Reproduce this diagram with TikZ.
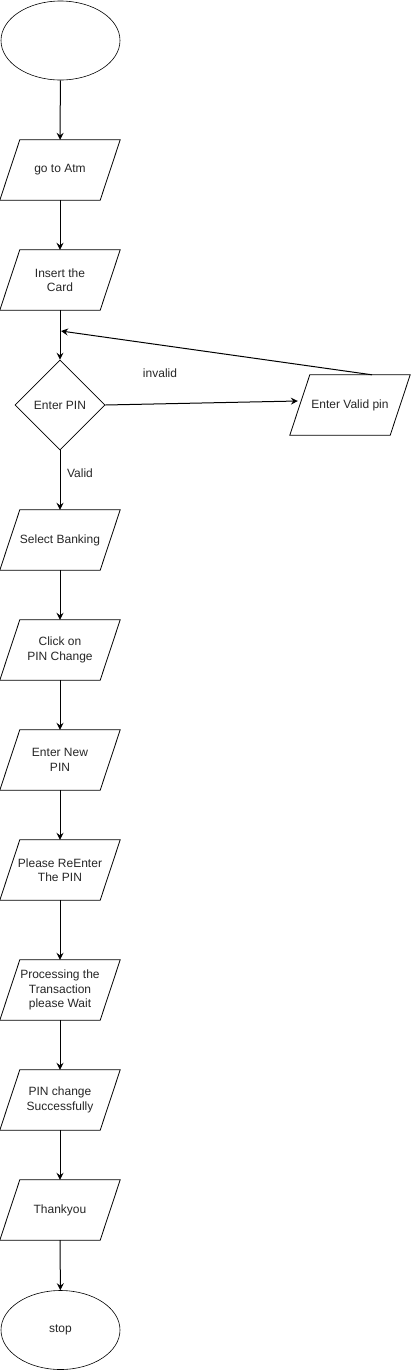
\documentclass[tikz,border=0pt]{standalone}
\usepackage{fontspec}
\setmainfont{Liberation Sans}
\usetikzlibrary{shapes.geometric,arrows.meta}

\tikzset{
	txt/.style={font=\fontsize{12pt}{14.5pt}\selectfont, text=black!85},
	io/.style={txt, rectangle, minimum width=100pt, minimum height=60pt, inner sep=0pt, align=center,
		append after command={\pgfextra{\draw[line width=0.8pt] ([xshift=-10pt]\tikzlastnode.south west) -- ([xshift=10pt]\tikzlastnode.north west) -- ([xshift=10pt]\tikzlastnode.north east) -- ([xshift=-10pt]\tikzlastnode.south east) -- cycle;}}},
	term/.style={draw, txt, ellipse, minimum width=119pt, minimum height=79pt, inner sep=0pt, line width=0.6pt},
	decide/.style={draw, txt, diamond, minimum width=90pt, minimum height=90pt, inner sep=0pt, line width=0.6pt},
	flow/.style={-{Stealth[length=7pt,width=7pt,inset=2.5pt]}, line width=1pt},
}

\begin{document}
\begin{tikzpicture}[x=1pt, y=-1pt]
	\useasboundingbox (0,0) rectangle (411,1371);
	% main column
	\node[term] (start) at (60.5,40.5) {};
	\node[io] (atm) at (60,170) {go to Atm};
	\node[io] (card) at (60,280) {Insert the\\Card};
	\node[decide] (pin) at (60,405) {Enter PIN};
	\node[io] (valid) at (350,405) {Enter Valid pin};
	\node[io] (bank) at (60,540) {Select Banking};
	\node[io] (click) at (60,650) {Click on\\PIN Change};
	\node[io] (newpin) at (60,760) {Enter New\\PIN};
	\node[io] (again) at (60,870) {Please ReEnter\\The PIN};
	\node[io] (wait) at (60,990) {Processing the\\Transaction\\please Wait};
	\node[io] (done) at (60,1100) {PIN change\\Successfully};
	\node[io] (thanks) at (60,1210) {Thankyou};
	\node[term] (stop) at (60.5,1330) {stop};
	\coordinate (back) at (61,331);
	% labels
	\node[txt] (lbinvalid) at (160,373) {invalid};
	\node[txt] (lbvalid) at (80,473) {Valid};
	% connectors
	\draw[flow] (start) -- (atm);
	\draw[flow] (atm) -- (card);
	\draw[flow] (card) -- (pin);
	\draw[flow] (pin.east) -- ([yshift=4pt,xshift=-2pt]valid.west);
	\draw[flow] ([xshift=22pt]valid.north) -- (back);
	\draw[flow] (pin) -- (bank);
	\draw[flow] (bank) -- (click);
	\draw[flow] (click) -- (newpin);
	\draw[flow] (newpin) -- (again);
	\draw[flow] (again) -- (wait);
	\draw[flow] (wait) -- (done);
	\draw[flow] (done) -- (thanks);
	\draw[flow] (thanks) -- (stop);
\end{tikzpicture}
\end{document}
